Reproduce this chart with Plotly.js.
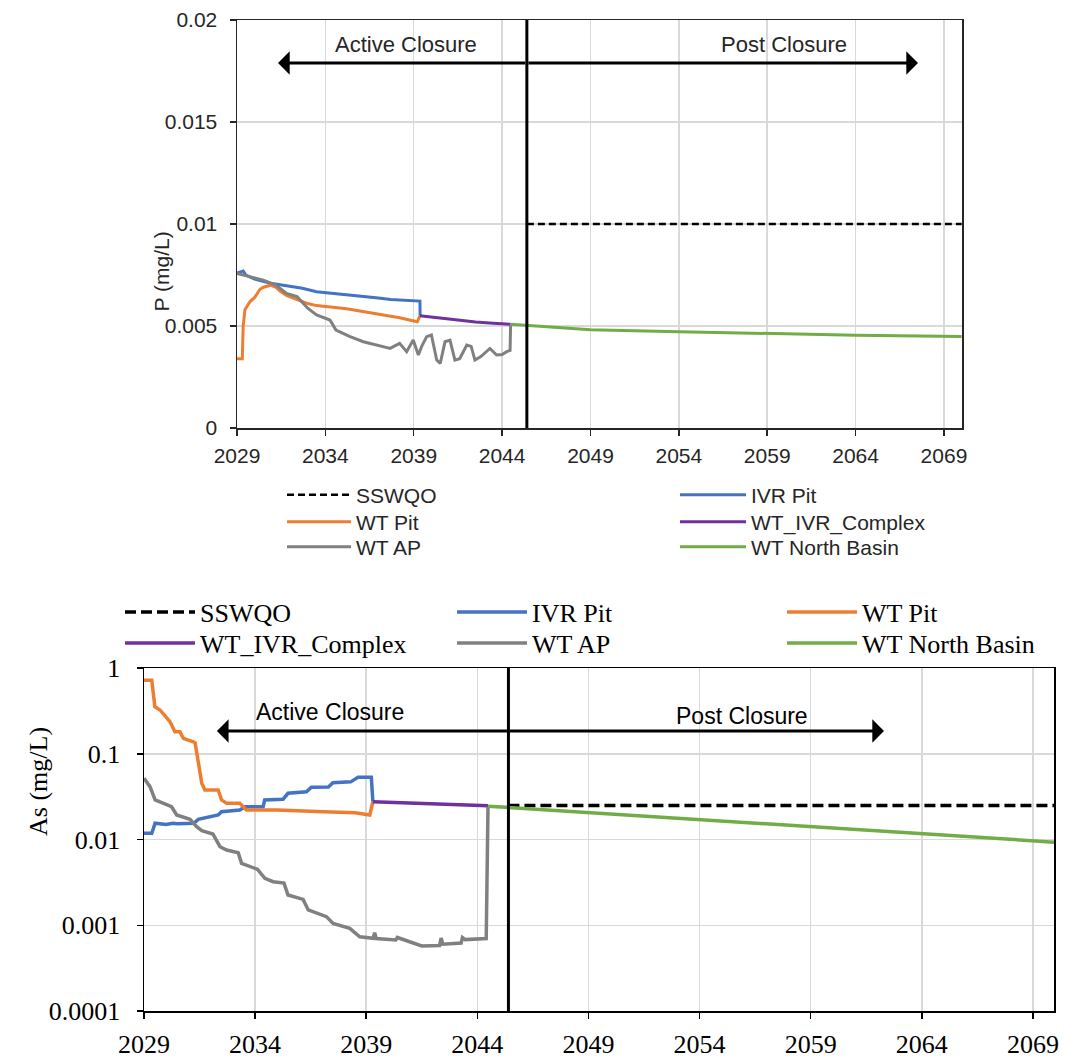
<!DOCTYPE html>
<html><head><meta charset="utf-8">
<script src="https://cdn.plot.ly/plotly-3.0.1.min.js"></script>
<style>html,body{margin:0;padding:0;background:#fff}#chart{width:1066px;height:1062px}</style>
</head><body><div id="chart"></div>
<script>
// ---------- Data: P (mg/L), top panel ----------
const seriesNames = ["SSWQO", "IVR Pit", "WT Pit", "WT_IVR_Complex", "WT AP", "WT North Basin"];
const closureYear = 2045.4;

const pSswqoX = [2045.4, 2070];
const pSswqoY = [0.01, 0.01];
const pIvrX = [2029.0, 2029.35, 2029.5, 2030.0, 2030.9, 2031.8, 2032.7, 2033.5, 2034.5, 2035.3, 2036.15, 2037.0, 2037.7, 2038.5, 2039.2, 2039.35, 2039.36];
const pIvrY = [0.0076, 0.0077, 0.0075, 0.0073, 0.0071, 0.00698, 0.00685, 0.00668, 0.0066, 0.00652, 0.00644, 0.00637, 0.0063, 0.00627, 0.00622, 0.00622, 0.0055];
const pPitX = [2029.0, 2029.3, 2029.35, 2029.45, 2029.74, 2030.0, 2030.3, 2030.5, 2030.9, 2031.2, 2031.45, 2031.8, 2032.4, 2033.0, 2033.5, 2034.3, 2035.2, 2036.2, 2037.2, 2038.2, 2039.2, 2039.35];
const pPitY = [0.0034, 0.0034, 0.0050, 0.0058, 0.0062, 0.0064, 0.0068, 0.0069, 0.0070, 0.0069, 0.0067, 0.0065, 0.0063, 0.0061, 0.0060, 0.00594, 0.00585, 0.0057, 0.00556, 0.0054, 0.00521, 0.0055];
const pCxX = [2039.35, 2040.5, 2041.5, 2042.5, 2043.5, 2044.48];
const pCxY = [0.0055, 0.00538, 0.00528, 0.0052, 0.00514, 0.00508];
const pApX = [2029.0, 2029.74, 2030.49, 2031.2, 2031.8, 2032.4, 2033.0, 2033.5, 2034.26, 2034.6, 2035.4, 2036.15, 2036.9, 2037.66, 2038.2, 2038.6, 2038.97, 2039.26, 2039.45, 2039.73, 2040.0, 2040.3, 2040.5, 2040.77, 2041.05, 2041.33, 2041.6, 2042.0, 2042.25, 2042.46, 2042.8, 2043.13, 2043.31, 2043.69, 2044.0, 2044.26, 2044.45, 2044.48];
const pApY = [0.00758, 0.00742, 0.00725, 0.00701, 0.0066, 0.00644, 0.00587, 0.00554, 0.00529, 0.0048, 0.00448, 0.00423, 0.00407, 0.0039, 0.00415, 0.00374, 0.00431, 0.00358, 0.0040, 0.00448, 0.00456, 0.00333, 0.00317, 0.00423, 0.00431, 0.00333, 0.0034, 0.00407, 0.0040, 0.00333, 0.0035, 0.00374, 0.0039, 0.00358, 0.0036, 0.00374, 0.0038, 0.00505];
const pNbX = [2044.48, 2049, 2054, 2059, 2064, 2070];
const pNbY = [0.00508, 0.00482, 0.00472, 0.00463, 0.00455, 0.00448];
const pTickVals = [0, 0.005, 0.01, 0.015, 0.02];
const pTickText = ["0", "0.005", "0.01", "0.015", "0.02"];

// ---------- Data: As (mg/L), bottom panel ----------
const asSswqoX = [2045.4, 2070];
const asSswqoY = [0.025, 0.025];
const asIvrX = [2029.0, 2029.35, 2029.5, 2030.0, 2030.3, 2030.5, 2031.25, 2031.44, 2032.34, 2032.49, 2033.31, 2033.54, 2034.36, 2034.43, 2035.26, 2035.48, 2036.31, 2036.53, 2037.3, 2037.5, 2038.3, 2038.63, 2039.23, 2039.3];
const asIvrY = [0.0118, 0.0118, 0.0155, 0.015, 0.0155, 0.0153, 0.0155, 0.0172, 0.0193, 0.0211, 0.0221, 0.0241, 0.0241, 0.0289, 0.0295, 0.0346, 0.036, 0.0406, 0.041, 0.046, 0.047, 0.0531, 0.0531, 0.0276];
const asPitX = [2029.0, 2029.35, 2029.49, 2029.72, 2030.17, 2030.39, 2030.62, 2030.77, 2031.22, 2031.3, 2031.6, 2031.74, 2032.34, 2032.49, 2032.72, 2033.31, 2033.61, 2035.0, 2037.06, 2038.5, 2039.16, 2039.3];
const asPitY = [0.72, 0.72, 0.354, 0.324, 0.237, 0.181, 0.181, 0.151, 0.138, 0.134, 0.0452, 0.0378, 0.0378, 0.0289, 0.0264, 0.0264, 0.0221, 0.0221, 0.0211, 0.0205, 0.0193, 0.0276];
const asCxX = [2039.3, 2040.5, 2041.5, 2042.5, 2043.5, 2044.48];
const asCxY = [0.0276, 0.027, 0.0264, 0.0258, 0.0253, 0.0248];
const asApX = [2029.0, 2029.27, 2029.5, 2029.87, 2030.24, 2030.47, 2031.07, 2031.37, 2031.6, 2032.1, 2032.42, 2032.72, 2033.24, 2033.39, 2033.91, 2034.1, 2034.44, 2034.81, 2035.3, 2035.48, 2036.16, 2036.39, 2037.21, 2037.51, 2038.26, 2038.71, 2039.31, 2039.38, 2039.45, 2040.33, 2040.4, 2041.24, 2041.5, 2042.3, 2042.37, 2042.45, 2043.27, 2043.33, 2043.45, 2044.4, 2044.48];
const asApY = [0.0517, 0.0413, 0.0289, 0.0264, 0.0241, 0.0193, 0.0172, 0.0141, 0.0127, 0.0116, 0.00824, 0.00755, 0.00702, 0.00527, 0.00461, 0.0045, 0.00352, 0.00322, 0.0031, 0.00225, 0.002, 0.00151, 0.00126, 0.00105, 0.00092, 0.000735, 0.000704, 0.00082, 0.0007, 0.000673, 0.00072, 0.000616, 0.000573, 0.00058, 0.00071, 0.0006, 0.00062, 0.00072, 0.00068, 0.0007, 0.0241];
const asNbX = [2044.48, 2049, 2054, 2059, 2064, 2070];
const asNbY = [0.0245, 0.0206, 0.0171, 0.0141, 0.0117, 0.0093];
const asTickVals = [0.0001, 0.001, 0.01, 0.1, 1];
const asTickText = ["0.0001", "0.001", "0.01", "0.1", "1"];

const yearTick0 = 2029;
const yearStep = 5;

// ---------- Styling ----------
const W = 1066, H = 1062;
const px = v => v / W;
const py = v => 1 - v / H;
const C = {ss: "#000000", ivr: "#4472C4", pit: "#ED7D31", cx: "#7030A0", ap: "#808080", nb: "#70AD47"};
const sansTop = {family: "Liberation Sans, Arial, sans-serif", size: 21, color: "#262626"};
const serifBot = {family: "Liberation Serif, Times New Roman, serif", size: 26, color: "#000000"};

function tr(x, y, name, color, xa, ya, leg, lw, dash) {
  return {x: x, y: y, name: name, type: "scatter", mode: "lines", xaxis: xa, yaxis: ya, legend: leg,
          line: {color: color, width: lw, dash: dash || "solid"}, hoverinfo: "skip"};
}

const data = [
  tr(pSswqoX, pSswqoY, seriesNames[0], C.ss, "x", "y", "legend", 2.5, "7px,4px"),
  tr(pIvrX, pIvrY, seriesNames[1], C.ivr, "x", "y", "legend2", 3),
  tr(pPitX, pPitY, seriesNames[2], C.pit, "x", "y", "legend3", 3),
  tr(pCxX, pCxY, seriesNames[3], C.cx, "x", "y", "legend4", 3),
  tr(pApX, pApY, seriesNames[4], C.ap, "x", "y", "legend5", 3),
  tr(pNbX, pNbY, seriesNames[5], C.nb, "x", "y", "legend6", 3),
  tr(asSswqoX, asSswqoY, seriesNames[0], C.ss, "x2", "y2", "legend7", 3.5, "11px,5px"),
  tr(asIvrX, asIvrY, seriesNames[1], C.ivr, "x2", "y2", "legend8", 3.5),
  tr(asPitX, asPitY, seriesNames[2], C.pit, "x2", "y2", "legend9", 3.5),
  tr(asCxX, asCxY, seriesNames[3], C.cx, "x2", "y2", "legend10", 3.5),
  tr(asApX, asApY, seriesNames[4], C.ap, "x2", "y2", "legend11", 3.5),
  tr(asNbX, asNbY, seriesNames[5], C.nb, "x2", "y2", "legend12", 3.5)
];

function leg(xs, yc, font, iw) {
  return {orientation: "v", x: px(xs), xanchor: "left", y: py(yc), yanchor: "middle", font: font,
          itemwidth: iw, bgcolor: "rgba(0,0,0,0)", borderwidth: 0,
          itemclick: false, itemdoubleclick: false};
}

const axCommon = {showgrid: true, gridcolor: "#d9d9d9", gridwidth: 1.5, showline: true, mirror: true,
                  zeroline: false, ticks: "outside", ticklen: 6, automargin: false, fixedrange: true};

const layout = {
  width: W, height: H, margin: {l: 0, r: 0, t: 0, b: 0}, paper_bgcolor: "#fff", plot_bgcolor: "#fff",
  showlegend: true,
  xaxis: Object.assign({}, axCommon, {domain: [px(237), px(962)], range: [2029, 2070.02], anchor: "y",
          tick0: yearTick0, dtick: yearStep, tickformat: "d", tickfont: sansTop, linecolor: "#262626",
          linewidth: 1.5, tickcolor: "#262626", tickwidth: 1.5, ticklabelstandoff: 2}),
  yaxis: Object.assign({}, axCommon, {domain: [py(428), py(20)], range: [0, 0.02], anchor: "x",
          tickvals: pTickVals, ticktext: pTickText, tickfont: sansTop, linecolor: "#262626",
          linewidth: 1.5, tickcolor: "#262626", tickwidth: 1.5, ticklabelstandoff: 8}),
  xaxis2: Object.assign({}, axCommon, {domain: [px(144), px(1054)], range: [2029, 2069.95], anchor: "y2",
          tick0: yearTick0, dtick: yearStep, tickformat: "d", tickfont: serifBot, linecolor: "#000",
          linewidth: 1.5, tickcolor: "#000", tickwidth: 1.5, ticklabelstandoff: 3}),
  yaxis2: Object.assign({}, axCommon, {domain: [py(1011), py(668)], type: "log", range: [-4, 0], anchor: "x2",
          tickvals: asTickVals, ticktext: asTickText, tickfont: serifBot, linecolor: "#000",
          linewidth: 1.5, tickcolor: "#000", tickwidth: 1.5, ticklabelstandoff: 11}),
  legend: leg(282, 495, sansTop, 64),
  legend2: leg(675, 495, sansTop, 66),
  legend3: leg(282, 522, sansTop, 64),
  legend4: leg(675, 522, sansTop, 66),
  legend5: leg(282, 547, sansTop, 64),
  legend6: leg(675, 547, sansTop, 66),
  legend7: leg(120, 612, serifBot, 70),
  legend8: leg(452, 612, serifBot, 70),
  legend9: leg(782, 612, serifBot, 70),
  legend10: leg(120, 643, serifBot, 70),
  legend11: leg(452, 643, serifBot, 70),
  legend12: leg(782, 643, serifBot, 70),
  shapes: [
    {type: "line", xref: "x", yref: "y domain", x0: closureYear, x1: closureYear, y0: 0, y1: 1, line: {color: "#000", width: 3}},
    {type: "line", xref: "x2", yref: "y2 domain", x0: closureYear, x1: closureYear, y0: 0, y1: 1, line: {color: "#000", width: 3}}
  ],
  annotations: [
    {xref: "x", yref: "y", x: 2031.32, y: 0.01789, axref: "x", ayref: "y", ax: closureYear, ay: 0.01789, text: "",
     showarrow: true, arrowhead: 1, arrowsize: 1.3, arrowwidth: 3, arrowcolor: "#000", standoff: 0, startstandoff: 0},
    {xref: "x", yref: "y", x: 2067.53, y: 0.01789, axref: "x", ayref: "y", ax: closureYear, ay: 0.01789, text: "",
     showarrow: true, arrowhead: 1, arrowsize: 1.3, arrowwidth: 3, arrowcolor: "#000", standoff: 0, startstandoff: 0},
    {xref: "x", yref: "y", x: 2038.56, y: 0.01882, text: "Active Closure", showarrow: false, font: {family: sansTop.family, size: 22, color: "#262626"}},
    {xref: "x", yref: "y", x: 2059.95, y: 0.01882, text: "Post Closure", showarrow: false, font: {family: sansTop.family, size: 22, color: "#262626"}},
    {xref: "x2", yref: "y2", x: 2032.28, y: Math.log10(0.184), axref: "x2", ayref: "y2", ax: closureYear, ay: Math.log10(0.184), text: "",
     showarrow: true, arrowhead: 1, arrowsize: 1.3, arrowwidth: 3, arrowcolor: "#000", standoff: 0, startstandoff: 0},
    {xref: "x2", yref: "y2", x: 2062.3, y: Math.log10(0.184), axref: "x2", ayref: "y2", ax: closureYear, ay: Math.log10(0.184), text: "",
     showarrow: true, arrowhead: 1, arrowsize: 1.3, arrowwidth: 3, arrowcolor: "#000", standoff: 0, startstandoff: 0},
    {xref: "x2", yref: "y2", x: 2037.36, y: Math.log10(0.307), text: "Active Closure", showarrow: false, font: {family: sansTop.family, size: 23, color: "#000"}},
    {xref: "x2", yref: "y2", x: 2055.92, y: Math.log10(0.275), text: "Post Closure", showarrow: false, font: {family: sansTop.family, size: 23, color: "#000"}},
    {xref: "paper", yref: "paper", x: px(147), y: py(230), text: "P (mg/L)", textangle: -90, showarrow: false, font: sansTop},
    {xref: "paper", yref: "paper", x: px(22), y: py(838), text: "As (mg/L)", textangle: -90, showarrow: false, font: serifBot}
  ]
};

Plotly.newPlot("chart", data, layout, {staticPlot: true, displayModeBar: false});
</script></body></html>
